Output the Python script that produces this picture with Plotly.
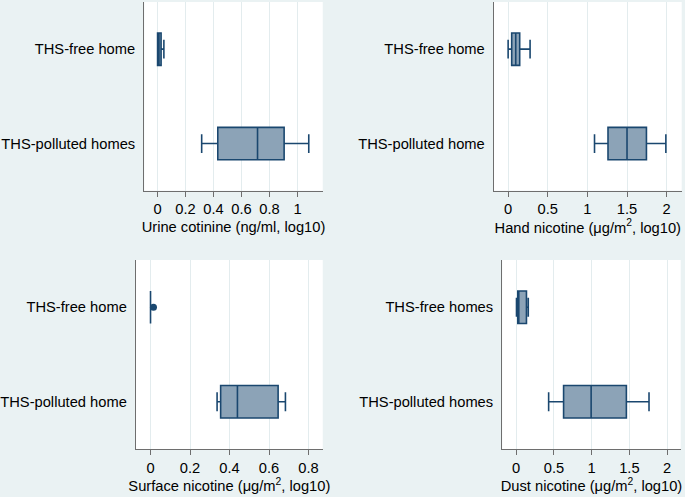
import plotly.graph_objects as go

# ---- data ----
cats_urine = ["THS-free home", "THS-polluted homes"]
urine_low = [0.0, 0.315]
urine_q1 = [0.0, 0.43]
urine_med = [0.01, 0.714]
urine_q3 = [0.025, 0.904]
urine_high = [0.045, 1.08]

cats_hand = ["THS-free home", "THS-polluted home"]
hand_low = [0.0, 1.09]
hand_q1 = [0.045, 1.26]
hand_med = [0.096, 1.50]
hand_q3 = [0.146, 1.745]
hand_high = [0.277, 1.99]

cats_surface = ["THS-free home", "THS-polluted home"]
surface_low = [0.0, 0.337]
surface_q1 = [0.0, 0.355]
surface_med = [0.0, 0.44]
surface_q3 = [0.0, 0.646]
surface_high = [0.0, 0.683]
surface_outlier_x = [0.015]
surface_outlier_cat = ["THS-free home"]

cats_dust = ["THS-free homes", "THS-polluted homes"]
dust_low = [0.004, 0.43]
dust_q1 = [0.021, 0.628]
dust_med = [0.021, 0.993]
dust_q3 = [0.136, 1.46]
dust_high = [0.16, 1.76]

ticks_urine = [0, 0.2, 0.4, 0.6, 0.8, 1]
ticks_hand = [0, 0.5, 1, 1.5, 2]
ticks_surface = [0, 0.2, 0.4, 0.6, 0.8]
ticks_dust = [0, 0.5, 1, 1.5, 2]

titles = [
    "Urine cotinine (ng/ml, log10)",
    "Hand nicotine (μg/m<sup>2</sup>, log10)",
    "Surface nicotine (μg/m<sup>2</sup>, log10)",
    "Dust nicotine (μg/m<sup>2</sup>, log10)",
]

# ---- styling ----
W, H = 685, 497
BG = "#EAF2F3"
NAVY = "#1A476F"
FILL = "#8CA3B7"
AXIS = "#6E6E6E"
FONT = "Liberation Sans, Arial, sans-serif"
FS = 14.7

# panel pixel boxes: (left, right, top, bottom)
panels = [
    (142.7, 321.7, 2, 190.7),
    (493.3, 681.7, 2, 190.7),
    (134.3, 321.7, 260, 449),
    (501.7, 680.7, 260, 449),
]
xranges = [(-0.095, 1.18), (-0.18, 2.19), (-0.074, 0.872), (-0.185, 2.18)]

fig = go.Figure()

series = [
    (cats_urine, urine_low, urine_q1, urine_med, urine_q3, urine_high, ticks_urine),
    (cats_hand, hand_low, hand_q1, hand_med, hand_q3, hand_high, ticks_hand),
    (cats_surface, surface_low, surface_q1, surface_med, surface_q3, surface_high, ticks_surface),
    (cats_dust, dust_low, dust_q1, dust_med, dust_q3, dust_high, ticks_dust),
]

layout_axes = {}
for i, (cats, lo, q1, med, q3, hi, ticks) in enumerate(series):
    n = i + 1
    xa = "x" if n == 1 else f"x{n}"
    ya = "y" if n == 1 else f"y{n}"
    fig.add_trace(go.Box(
        y=cats, q1=q1, median=med, q3=q3, lowerfence=lo, upperfence=hi,
        orientation="h", xaxis=xa, yaxis=ya,
        fillcolor=FILL, line=dict(color=NAVY, width=1.6),
        whiskerwidth=0.58, boxpoints=False, showlegend=False,
    ))
    l, r, t, b = panels[i]
    xkey = "xaxis" if n == 1 else f"xaxis{n}"
    ykey = "yaxis" if n == 1 else f"yaxis{n}"
    layout_axes[xkey] = dict(
        domain=[l / W, r / W], anchor=ya, range=list(xranges[i]),
        tickvals=ticks, ticktext=[f"{v:g}" for v in ticks],
        ticks="outside", ticklen=5, tickwidth=1, tickcolor=AXIS,
        showline=True, linecolor=AXIS, linewidth=1.3,
        showgrid=True, gridcolor="#E3ECEE", gridwidth=1.2, zeroline=False,
        tickfont=dict(family=FONT, size=FS, color="#000"),
        title=dict(text=titles[i], font=dict(family=FONT, size=FS, color="#000"), standoff=5),
    )
    layout_axes[ykey] = dict(
        domain=[(H - b) / H, (H - t) / H], anchor=xa,
        type="category", categoryorder="array", categoryarray=cats,
        range=[1.5, -0.5], showgrid=False, zeroline=False,
        showline=True, linecolor=AXIS, linewidth=1.3, ticks="",
        ticklabelstandoff=5,
        tickfont=dict(family=FONT, size=FS, color="#000"),
    )

fig.add_trace(go.Scatter(
    x=surface_outlier_x, y=surface_outlier_cat, xaxis="x3", yaxis="y3",
    mode="markers", marker=dict(color=NAVY, size=7), showlegend=False,
))

fig.update_layout(
    width=W, height=H, autosize=False,
    margin=dict(l=0, r=0, t=0, b=0),
    paper_bgcolor=BG, plot_bgcolor="white",
    boxgap=0.51, showlegend=False, hovermode=False,
    **layout_axes,
)

fig.write_html(
    "out.html",
    config={"displayModeBar": False},
    post_script="document.body.style.margin='0';document.body.style.overflow='hidden';",
)
